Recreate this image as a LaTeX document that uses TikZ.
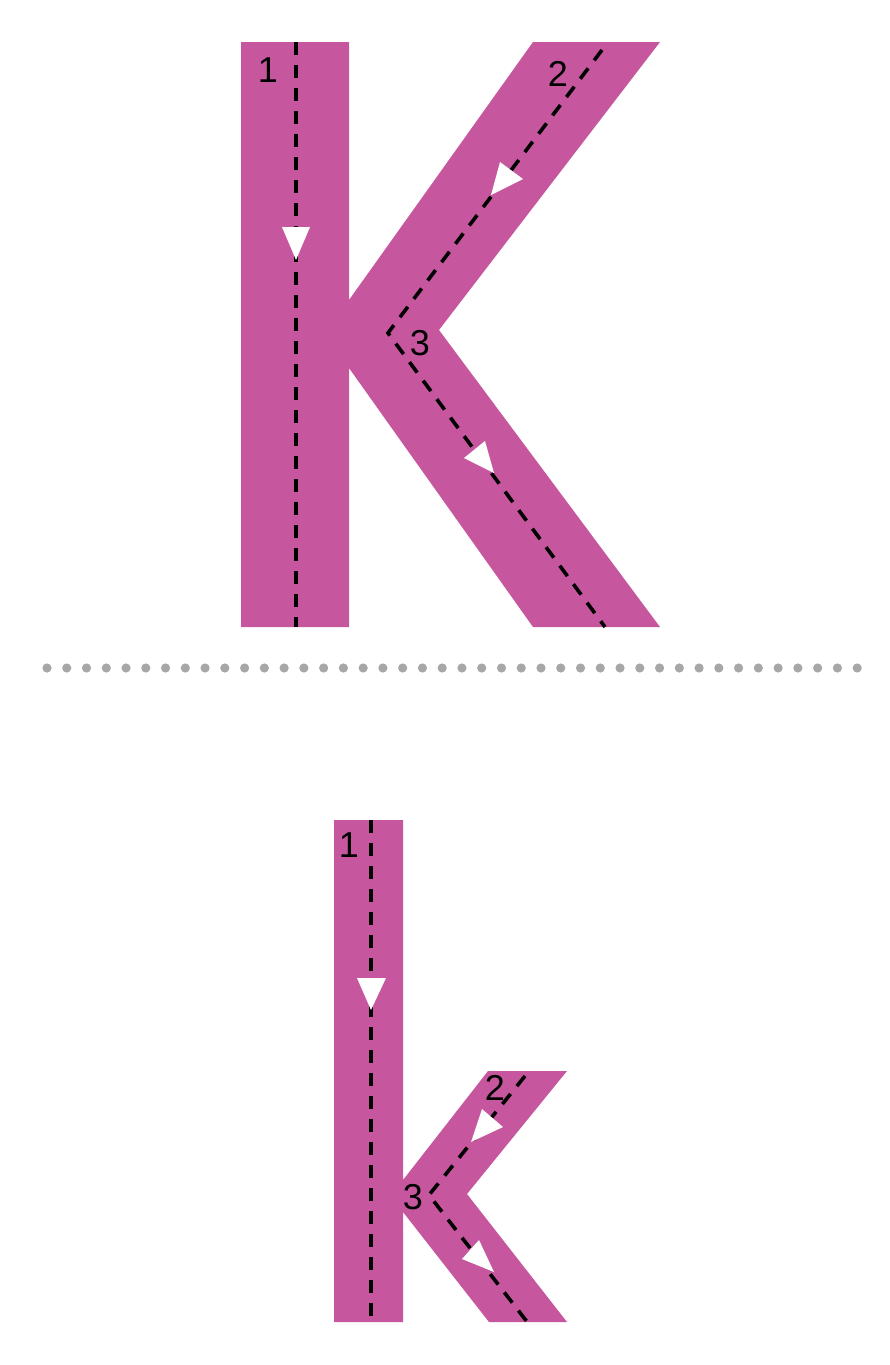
\documentclass[tikz,border=0pt]{standalone}
\usepackage{fontspec}
\setmainfont{Liberation Sans}
\definecolor{letterpink}{RGB}{198,87,158}
\definecolor{dotgray}{RGB}{167,167,169}
\begin{document}
\begin{tikzpicture}[x=1pt,y=-1pt,
  letter/.style={fill=letterpink,draw=none},
  strokepath/.style={black,line width=3.6pt,dash pattern=on 13pt off 10pt},
  tip/.style={fill=white,draw=none},
  num/.style={font=\fontsize{36}{36}\selectfont,inner sep=0pt,text=black}]
\useasboundingbox (0,0) rectangle (889,1365);
% ---------- capital K ----------
\fill[letter] (241,42) -- (349,42) -- (349,300) -- (533,42) -- (660,42) -- (439,330)
  -- (660,627) -- (533,627) -- (349,368) -- (349,627) -- (241,627) -- cycle;
\coordinate (K1a) at (296,42);
\coordinate (K1b) at (296,627);
\coordinate (K2a) at (602,50);
\coordinate (Kc) at (388,333);
\coordinate (K3b) at (605,627);
\draw[strokepath] (K1a) -- (K1b);
\draw[strokepath] (K2a) -- (Kc) -- (K3b);
\fill[tip] (282,227) -- (310,227) -- (296,260) -- cycle;
\fill[tip] (500,162) -- (523,179) -- (491,195) -- cycle;
\fill[tip] (485,441) -- (464,458) -- (494,473) -- cycle;
\node[num] (k1) at (268,70) {1};
\node[num] (k2) at (558,74) {2};
\node[num] (k3) at (420,343) {3};
% ---------- dotted separator ----------
\foreach \i in {0,...,41} {
  \fill[dotgray] ({47+\i*19.76},668) circle (4.6);
}
% ---------- small k ----------
\fill[letter] (334,820) -- (403,820) -- (403,1180) -- (488,1071) -- (567,1071) -- (467,1194)
  -- (567,1322) -- (489,1322) -- (403,1212) -- (403,1322) -- (334,1322) -- cycle;
\coordinate (s1a) at (371,820);
\coordinate (s1b) at (371,1322);
\coordinate (s2a) at (525,1076);
\coordinate (sc) at (429,1195);
\coordinate (s3b) at (528,1323);
\draw[strokepath] (s1a) -- (s1b);
\draw[strokepath] (s2a) -- (sc) -- (s3b);
\fill[tip] (357,978) -- (386,978) -- (371,1010) -- cycle;
\fill[tip] (482,1109) -- (503,1127) -- (471,1142) -- cycle;
\fill[tip] (479,1240) -- (462,1259) -- (494,1272) -- cycle;
\node[num] (sk1) at (349,845) {1};
\node[num] (sk2) at (495,1088) {2};
\node[num] (sk3) at (413,1197) {3};
\end{tikzpicture}
\end{document}
